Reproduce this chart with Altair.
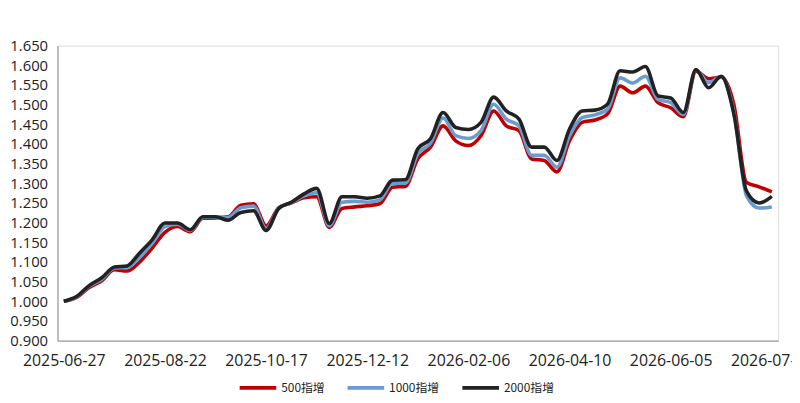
import altair as alt
import pandas as pd

# weekly dates (one holiday week, 2026-02-20, absent)
dates = [d.strftime("%Y-%m-%d") for d in pd.date_range("2025-06-27", "2026-08-07", freq="7D")
         if d.strftime("%Y-%m-%d") != "2026-02-20"][:57]

label_dates = dates[::8]

s500 = [1.000, 1.010, 1.035, 1.052, 1.080, 1.077, 1.100, 1.136, 1.175, 1.190,
        1.177, 1.211, 1.212, 1.215, 1.244, 1.248, 1.192, 1.238, 1.250, 1.263,
        1.266, 1.188, 1.236, 1.240, 1.243, 1.248, 1.290, 1.292, 1.362, 1.392,
        1.446, 1.408, 1.396, 1.421, 1.484, 1.446, 1.434, 1.362, 1.358, 1.329,
        1.408, 1.455, 1.461, 1.476, 1.547, 1.530, 1.547, 1.505, 1.492, 1.469,
        1.585, 1.566, 1.570, 1.500, 1.302, 1.291, 1.278]

s1000 = [1.000, 1.011, 1.038, 1.056, 1.085, 1.086, 1.112, 1.148, 1.190, 1.196,
         1.180, 1.213, 1.214, 1.213, 1.238, 1.242, 1.185, 1.237, 1.251, 1.268,
         1.276, 1.192, 1.252, 1.254, 1.252, 1.258, 1.300, 1.300, 1.375, 1.402,
         1.466, 1.421, 1.414, 1.434, 1.501, 1.463, 1.446, 1.371, 1.371, 1.341,
         1.421, 1.467, 1.474, 1.488, 1.568, 1.555, 1.572, 1.513, 1.505, 1.475,
         1.588, 1.556, 1.571, 1.480, 1.268, 1.237, 1.240]

s2000 = [1.000, 1.012, 1.040, 1.060, 1.087, 1.090, 1.123, 1.157, 1.199, 1.199,
         1.182, 1.215, 1.215, 1.206, 1.226, 1.230, 1.180, 1.236, 1.252, 1.273,
         1.287, 1.198, 1.266, 1.266, 1.262, 1.268, 1.308, 1.309, 1.388, 1.413,
         1.480, 1.442, 1.437, 1.455, 1.519, 1.484, 1.463, 1.392, 1.392, 1.358,
         1.438, 1.484, 1.486, 1.501, 1.586, 1.583, 1.597, 1.522, 1.517, 1.480,
         1.589, 1.543, 1.572, 1.476, 1.280, 1.250, 1.267]

series_names = ["500指增", "1000指增", "2000指增"]
series_colors = ["#C00000", "#6A9BD1", "#222222"]
y_ticks = [round(0.9 + 0.05 * k, 3) for k in range(16)]

rows = []
for name, vals in zip(series_names, [s500, s1000, s2000]):
    for d, v in zip(dates, vals):
        rows.append({"date": d, "series": name, "value": v})
df = pd.DataFrame(rows)

color = alt.Color(
    "series:N",
    scale=alt.Scale(domain=series_names, range=series_colors),
    legend=alt.Legend(
        title=None, orient="none", direction="horizontal",
        legendX=182, legendY=325,
        symbolType="stroke", symbolSize=1369, symbolStrokeWidth=4,
        labelFont="Noto Sans CJK SC", labelFontSize=12, labelColor="#222222",
        labelOffset=3, columnPadding=15,
    ),
)

x = alt.X(
    "date:O",
    title=None,
    scale=alt.Scale(type="point", padding=0.5),
    axis=alt.Axis(values=label_dates, labelAngle=0, ticks=False, labelPadding=12,
                  domainColor="#8c8c8c", labelFont="Open Sans", labelFontSize=16,
                  labelColor="#222222"),
)
y = alt.Y(
    "value:Q",
    title=None,
    scale=alt.Scale(domain=[0.9, 1.65], nice=False, zero=False),
    axis=alt.Axis(values=y_ticks, format=".3f", ticks=False, grid=False, labelPadding=10,
                  domainColor="#8c8c8c", labelFont="Open Sans", labelFontSize=15,
                  labelColor="#222222"),
)

base = alt.Chart(df).mark_line(strokeWidth=3.6, interpolate="monotone").encode(
    x=x, y=y, color=color
)

layers = [base.transform_filter(alt.datum.series == n) for n in series_names]

chart = alt.layer(*layers).properties(
    width=728, height=298,
    autosize=alt.AutoSizeParams(type="none"),
    padding={"left": 50, "top": 36, "right": 14, "bottom": 61},
).configure_view(stroke=None).configure(background="white")

chart.save("out.html", embed_options={"renderer": "svg", "actions": False})
